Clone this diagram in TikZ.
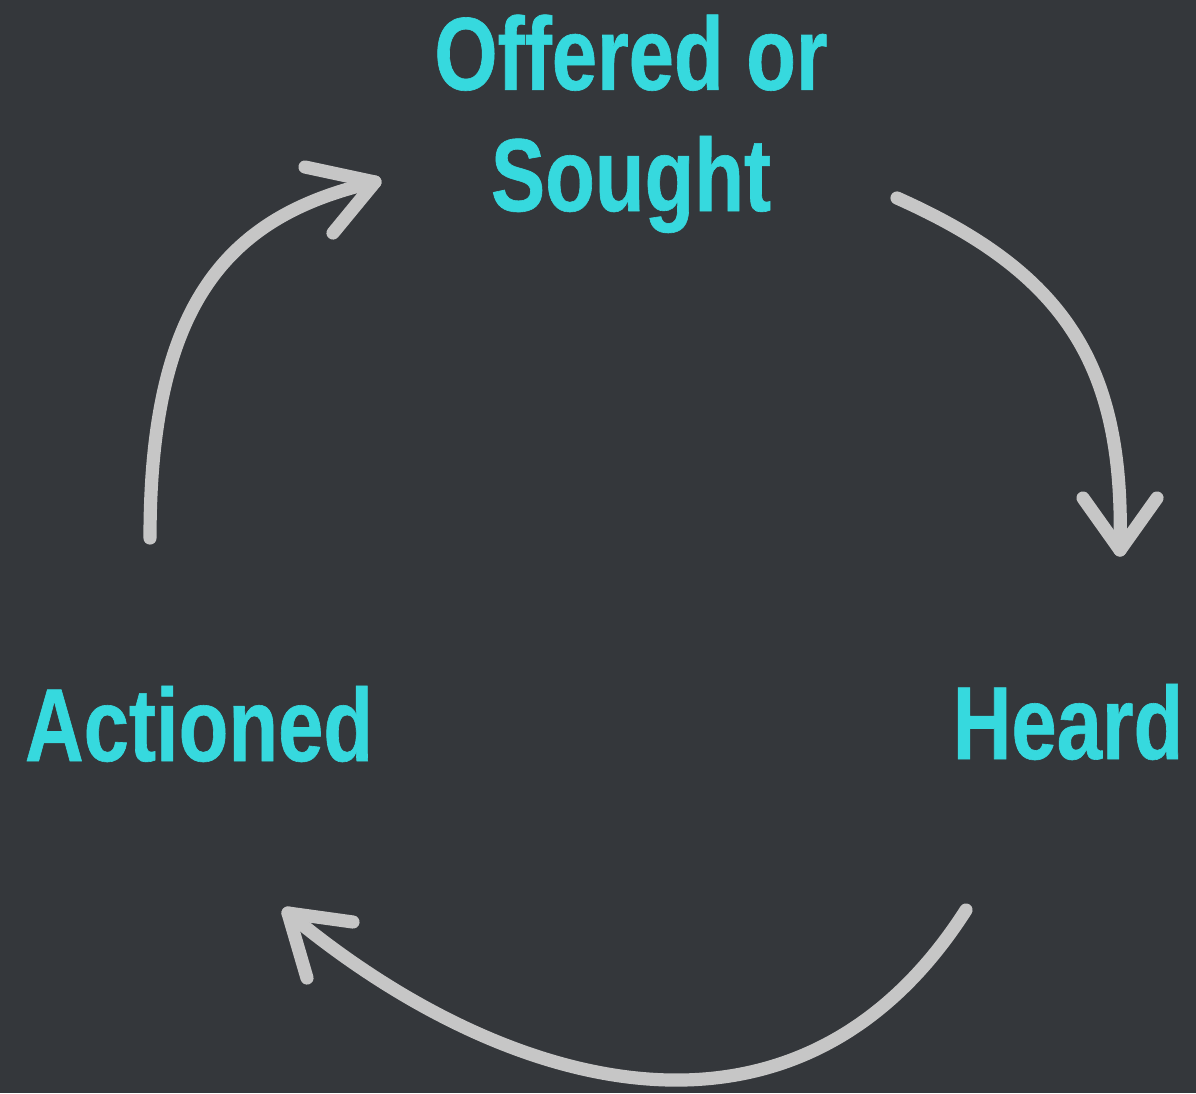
\documentclass[tikz,border=0pt]{standalone}
\usepackage{fontspec}
\newfontfamily\labelfont{Liberation Sans}[FakeStretch=0.785,FakeBold=0.6]
\definecolor{board}{RGB}{52,55,59}
\definecolor{cyanlabel}{RGB}{54,217,222}
\definecolor{chalk}{RGB}{198,198,198}

\begin{document}
\begin{tikzpicture}[x=0.02cm,y=-0.02cm,
	lbl/.style={text=cyanlabel,inner sep=0pt,anchor=base,
		font=\labelfont\bfseries\fontsize{59}{69}\selectfont},
	chalkline/.style={draw=chalk,line width=7.5pt,line cap=round,line join=round}]
	\useasboundingbox (0,0) rectangle (1196,1093);
	\fill[board] (0,0) rectangle (1196,1093);
	\node[lbl,align=center] (offered) at (631,211) {Offered or\\Sought};
	\node[lbl] (heard) at (1068,759) {Heard};
	\node[lbl] (actioned) at (199,761) {Actioned};
	% ends of the three arcs
	\coordinate (act-out) at (150,538);
	\coordinate (off-in) at (375,182);
	\coordinate (off-out) at (897,198);
	\coordinate (hrd-in) at (1120,550);
	\coordinate (hrd-out) at (966,910);
	\coordinate (act-in) at (288,913);
	% actioned -> offered
	\draw[chalkline] (act-out) .. controls (150,300) and (230,215) .. (off-in);
	\draw[chalkline] (off-in) ++(-70,-15) -- (off-in) -- ++(-42,51);
	% offered -> heard
	\draw[chalkline] (off-out) .. controls (1070,275) and (1125,370) .. (hrd-in);
	\draw[chalkline] (hrd-in) ++(-37,-52) -- (hrd-in) -- ++(37,-52);
	% heard -> actioned
	\draw[chalkline] (hrd-out) .. controls (790,1185) and (490,1082) .. (act-in);
	\draw[chalkline] (act-in) ++(65,9) -- (act-in) -- ++(19,65);
\end{tikzpicture}
\end{document}
